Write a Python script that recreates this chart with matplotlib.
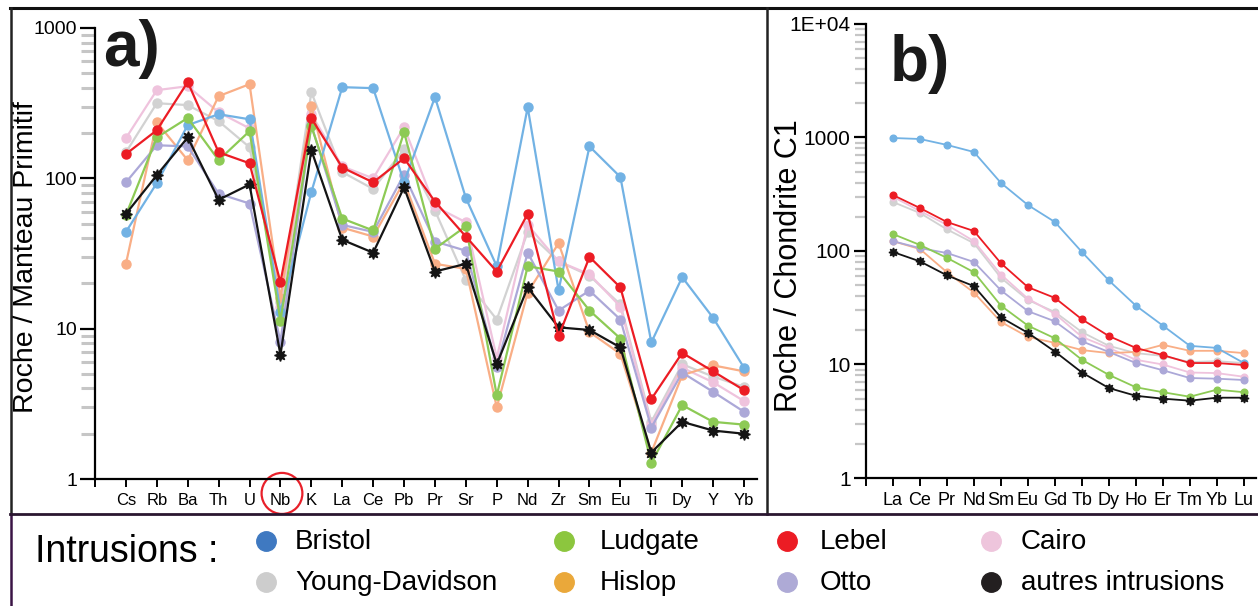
import matplotlib
matplotlib.use('Agg')
import matplotlib.pyplot as plt
from matplotlib.lines import Line2D
from matplotlib.patches import Ellipse
from matplotlib.ticker import LogLocator, NullFormatter, FixedLocator, FixedFormatter

plt.rcParams['font.family'] = ['Liberation Sans', 'DejaVu Sans']

# ---------------- data ----------------
pm_elements = ['Cs', 'Rb', 'Ba', 'Th', 'U', 'Nb', 'K', 'La', 'Ce', 'Pb', 'Pr',
               'Sr', 'P', 'Nd', 'Zr', 'Sm', 'Eu', 'Ti', 'Dy', 'Y', 'Yb']
ree_elements = ['La', 'Ce', 'Pr', 'Nd', 'Sm', 'Eu', 'Gd', 'Tb', 'Dy', 'Ho',
                'Er', 'Tm', 'Yb', 'Lu']

series_names = ['Bristol', 'Young-Davidson', 'Ludgate', 'Hislop',
                'Lebel', 'Otto', 'Cairo', 'autres intrusions']

# Roche / Manteau Primitif
bristol_pm = [44, 93, 226, 267, 247, 13, 81, 404, 398, 94, 347, 74, 26, 297, 18, 163, 102, 8.1, 22, 11.8, 5.5]
youngdav_pm = [149, 316, 307, 240, 161, 15, 374, 110, 85, 156, 61, 21, 11.5, 44, 28, 22.5, 14.5, 2.4, 5.8, 4.8, 4.1]
ludgate_pm = [57, 187, 252, 132, 206, 11.3, 222, 54, 45, 203, 34, 48, 3.6, 26, 24, 13.2, 8.6, 1.28, 3.1, 2.4, 2.3]
hislop_pm = [27, 236, 132, 352, 423, 16, 302, 47, 41, 95, 27, 25, 3.0, 17.4, 37, 9.5, 6.8, 1.5, 4.9, 5.7, 5.2]
lebel_pm = [145, 209, 437, 149, 126, 20.3, 251, 118, 94, 136, 70, 41, 24, 58, 8.9, 30, 18.8, 3.4, 6.9, 5.2, 3.9]
otto_pm = [94, 166, 163, 79, 68, 8.2, 226, 49, 44, 106, 38, 33, 5.6, 32, 13.2, 17.9, 11.5, 2.2, 5.1, 3.8, 2.8]
cairo_pm = [185, 386, 410, 275, 215, 14, 267, 120, 100, 219, 65, 51, 6.4, 49, 28, 23, 14, 2.3, 5.5, 4.4, 3.3]
autres_pm = [58, 105, 187, 72, 91, 6.7, 154, 39, 32, 87, 24, 27, 5.8, 18.8, 10.2, 9.8, 7.5, 1.5, 2.4, 2.1, 2.0]

# Roche / Chondrite C1
bristol_ree = [990, 970, 860, 745, 398, 254, 180, 98, 55, 33, 22, 14.6, 14, 10.3]
youngdav_ree = [270, 216, 155, 117, 58, 37, 29, 19.3, 14.6, 12.6, 11.9, 10.5, 10.7, 10.3]
ludgate_ree = [141, 113, 87, 65, 33, 22, 17, 11, 8.1, 6.3, 5.7, 5.2, 6.0, 5.7]
hislop_ree = [122, 104, 65, 43, 23.7, 17.5, 15.5, 13.4, 12.6, 12.9, 14.9, 13.2, 13.2, 12.6]
lebel_ree = [311, 239, 180, 150, 78, 48, 38.6, 25, 17.8, 14, 12.1, 10.3, 10.3, 9.9]
otto_ree = [122, 106, 96, 80, 45, 29.5, 24, 16, 12.9, 10.3, 8.9, 7.6, 7.5, 7.3]
cairo_ree = [300, 225, 170, 122, 62, 38, 28, 17.5, 14, 11, 10, 8.5, 8.4, 7.8]
autres_ree = [98, 81, 61, 49, 26, 19, 13, 8.5, 6.2, 5.3, 5.0, 4.8, 5.1, 5.1]

pm_data = [bristol_pm, youngdav_pm, ludgate_pm, hislop_pm, lebel_pm, otto_pm, cairo_pm, autres_pm]
ree_data = [bristol_ree, youngdav_ree, ludgate_ree, hislop_ree, lebel_ree, otto_ree, cairo_ree, autres_ree]

line_colors = ['#72b2e4', '#d2d2d2', '#8dca55', '#f9ae86', '#ec1c24', '#aca8d8', '#efc3dd', '#141414']
legend_colors = ['#3f79c1', '#cdcdcd', '#8cc63e', '#eaa83a', '#ec1c24', '#aeaad6', '#eec5dc', '#231f20']
draw_order = [1, 6, 3, 5, 0, 2, 7, 4]

# ---------------- figure ----------------
fig = plt.figure(figsize=(12.58, 6.06), dpi=100)

ax_a = fig.add_axes([0.07552, 0.20957, 0.52623, 0.74423])
ax_b = fig.add_axes([0.68839, 0.21122, 0.31, 0.74918])


def style_axis(ax, n, ymax, ylabels, xfont, yfont, maj_len, min_len, min_w, right_pad):
    ax.set_yscale('log')
    ax.set_ylim(1, ymax)
    ax.set_xlim(-1, n - 1 + right_pad)
    for s in ['top', 'right']:
        ax.spines[s].set_visible(False)
    for s in ['left', 'bottom']:
        ax.spines[s].set_linewidth(1.6)
    ax.patch.set_alpha(0)
    ax.yaxis.set_major_locator(FixedLocator([10 ** i for i in range(len(ylabels))]))
    ax.yaxis.set_major_formatter(FixedFormatter(ylabels))
    ax.yaxis.set_minor_locator(LogLocator(base=10, subs=range(2, 10), numticks=20))
    ax.yaxis.set_minor_formatter(NullFormatter())
    ax.tick_params(axis='y', which='major', length=maj_len, width=1.6, pad=2,
                   labelsize=yfont, direction='out')
    ax.tick_params(axis='y', which='minor', length=min_len, width=min_w,
                   color='#c6c6c6', direction='out')
    ax.tick_params(axis='x', which='major', length=6, width=1.4, pad=4,
                   labelsize=xfont, direction='out')


style_axis(ax_a, len(pm_elements), 1000, ['1', '10', '100', '1000'], 12, 14, 11, 10, 2.2, 0.42)
ax_a.set_xticks([-1] + list(range(len(pm_elements))))
ax_a.set_xticklabels([''] + pm_elements)

style_axis(ax_b, len(ree_elements), 1e4, ['1', '10', '100', '1000', '1E+04'], 13, 15, 9, 8, 1.6, 0.45)
ax_b.set_xticks([-1] + list(range(len(ree_elements))))
ax_b.set_xticklabels([''] + ree_elements,
                     fontfamily=['Liberation Sans Narrow', 'Liberation Sans'])

for i in draw_order:
    col = line_colors[i]
    is_black = (i == 7)
    mk = (8, 1, 0) if is_black else 'o'
    ax_a.plot(range(len(pm_elements)), pm_data[i], color=col, lw=1.6,
              marker=mk, ms=8.5 if is_black else 6.5, mec=col, mfc=col,
              solid_joinstyle='round')
    ax_b.plot(range(len(ree_elements)), ree_data[i], color=col, lw=1.3,
              marker=mk, ms=6.5 if is_black else 4.8, mec=col, mfc=col,
              solid_joinstyle='round')

ax_a.set_ylabel('Roche / Manteau Primitif', fontsize=20.5)
ax_a.yaxis.set_label_coords(-0.085, 0.492)
ax_b.set_ylabel('Roche / Chondrite C1', fontsize=22)
ax_b.yaxis.set_label_coords(-0.16, 0.467)

ax_a.text(0.012, 0.915, 'a)', transform=ax_a.transAxes, fontsize=46,
          fontweight='bold', va='baseline', ha='left', color='#1a1a1a')
ax_b.text(0.06, 0.875, 'b)', transform=ax_b.transAxes, fontsize=46,
          fontweight='bold', va='baseline', ha='left', color='#1a1a1a')

# red circle around Nb
nb_idx = pm_elements.index('Nb')
ax_a.add_patch(Ellipse((nb_idx + 0.05, -0.032), width=1.32, height=0.091,
                       transform=ax_a.get_xaxis_transform(), fill=False,
                       ec='#e8202a', lw=1.6, clip_on=False))

# frame lines
W, H = 1258.0, 606.0
def fx(px):
    return px / W
def fy(py):
    return 1 - py / H

fig.add_artist(Line2D([fx(10), 1.0], [fy(8), fy(8)], color='#111111', lw=2.2))
fig.add_artist(Line2D([fx(11), fx(11)], [fy(8), fy(514)], color='#222222', lw=1.8))
fig.add_artist(Line2D([fx(11), fx(11)], [fy(514), 0], color='#3a1445', lw=1.8))
fig.add_artist(Line2D([fx(767), fx(767)], [fy(8), fy(514)], color='#222222', lw=1.8))
fig.add_artist(Line2D([fx(10), 1.0], [fy(514), fy(514)], color='#2a1630', lw=2.0))

# legend
fig.text(fx(35), fy(562), 'Intrusions :', fontsize=27, ha='left', va='baseline')
leg_dot_x = [266, 266, 564, 564, 787, 787, 991, 991]
leg_row_y = [541, 582, 541, 582, 541, 582, 541, 582]
leg_text_x = [295, 295, 600, 600, 820, 820, 1021, 1021]
for i, name in enumerate(series_names):
    fig.add_artist(Line2D([fx(leg_dot_x[i])], [fy(leg_row_y[i])], marker='o',
                          ms=14, color=legend_colors[i], lw=0))
    fig.text(fx(leg_text_x[i]), fy(leg_row_y[i] + 1), name, fontsize=20,
             ha='left', va='center')

fig.savefig('out.png', dpi=100)
